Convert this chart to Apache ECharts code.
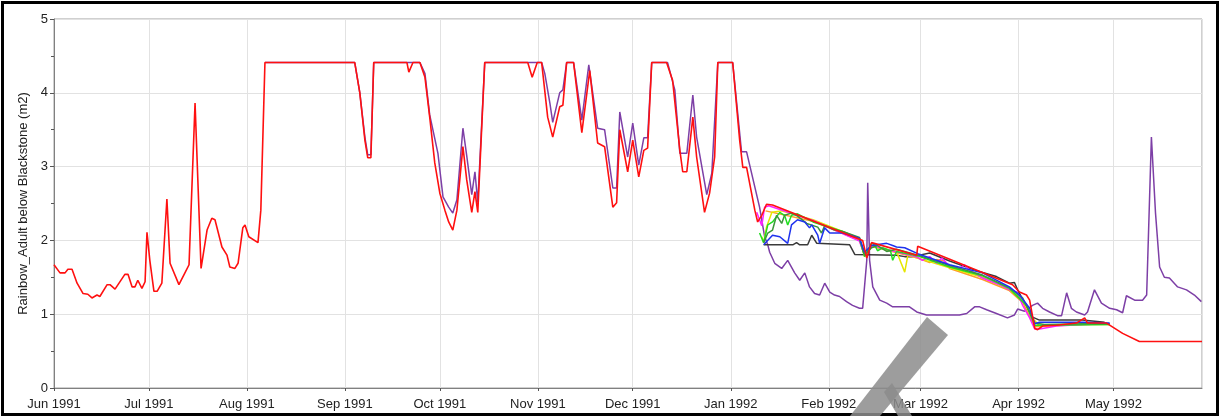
<!DOCTYPE html>
<html>
<head>
<meta charset="utf-8">
<script src="https://cdn.jsdelivr.net/npm/echarts@6/dist/echarts.min.js"></script>
<style>
  html, body { margin: 0; padding: 0; background: #fff; }
  #chart { width: 1220px; height: 416px; }
</style>
</head>
<body>
<div id="chart"></div>
<script>
// x values are days counted from 1 Jun 1991
var DAY = 864e5
var T0 = Date.UTC(1991, 5, 1)
var MONTHS = ['Jan', 'Feb', 'Mar', 'Apr', 'May', 'Jun', 'Jul', 'Aug', 'Sep', 'Oct', 'Nov', 'Dec']
var yTitle = 'Rainbow_Adult below Blackstone (m2)'

var red = [
  [0, 1.67], [1.9, 1.56], [3.5, 1.56], [4.4, 1.61], [5.7, 1.61], [7.3, 1.42], [9.2, 1.28], [10.7, 1.27],
  [12.0, 1.22], [13.6, 1.26], [14.5, 1.24], [16.8, 1.40], [17.7, 1.40], [19.3, 1.34], [22.4, 1.54],
  [23.4, 1.54], [24.7, 1.37], [25.6, 1.37], [26.5, 1.46], [27.8, 1.35], [28.8, 1.44], [29.4, 2.11],
  [30.3, 1.73], [31.6, 1.31], [32.6, 1.31], [34.1, 1.42], [35.7, 2.56], [36.7, 1.69], [39.5, 1.40],
  [41.4, 1.56], [42.7, 1.67], [44.6, 3.86], [46.5, 1.62], [48.4, 2.14], [49.9, 2.30], [50.9, 2.28],
  [53.1, 1.91], [54.7, 1.80], [55.6, 1.64], [57.2, 1.62], [58.2, 1.69], [59.7, 2.17], [60.4, 2.21],
  [61.6, 2.05], [64.5, 1.97], [65.4, 2.41], [66.7, 4.41],
  [95.1, 4.41], [96.7, 4.00], [98.3, 3.36], [99.2, 3.12], [100.2, 3.12], [101.1, 4.41], [111.6, 4.41],
  [112.2, 4.28], [113.5, 4.41], [115.7, 4.41], [117.3, 4.21], [118.8, 3.67], [120.4, 3.05], [122.0, 2.64],
  [123.6, 2.41], [124.8, 2.25], [126.1, 2.14], [127.4, 2.41], [129.3, 3.27], [130.5, 2.82], [132.1, 2.38],
  [133.1, 2.66], [134.0, 2.38], [136.2, 4.41],
  [149.8, 4.41], [151.2, 4.21], [152.8, 4.41], [154.2, 4.41], [156.1, 3.67], [157.7, 3.40], [159.9, 3.81],
  [160.9, 3.83], [162.1, 4.41], [164.3, 4.41], [166.9, 3.46], [169.4, 4.30], [171.9, 3.32], [174.1, 3.27],
  [176.7, 2.45], [177.9, 2.51], [178.9, 3.50], [181.4, 2.93], [183.0, 3.36], [184.9, 2.86], [186.5, 3.22],
  [187.7, 3.25], [189.0, 4.41], [193.7, 4.41], [195.6, 4.17], [197.9, 3.22], [198.8, 2.93], [200.1, 2.93],
  [202.0, 3.67], [203.2, 3.13], [205.7, 2.38], [207.3, 2.64], [208.9, 3.13], [209.9, 4.41], [214.6, 4.41],
  [216.8, 3.36], [217.8, 2.99], [219.0, 2.99], [221.6, 2.41], [222.5, 2.25], [223.8, 2.34], [225.3, 2.49],
  [227.2, 2.48], [255.7, 2.00], [257.0, 1.76], [258.5, 1.97], [272.8, 1.80], [273.1, 1.92], [303.1, 1.40],
  [305.3, 1.30], [307.5, 1.26], [308.5, 1.19], [310.1, 0.81], [311.0, 0.79], [312.6, 0.84], [317.0, 0.85],
  [323.3, 0.88], [325.9, 0.95], [326.8, 0.88], [332.8, 0.88], [337.9, 0.74], [343.2, 0.63], [363, 0.63]
]

var purple = [
  [66.7, 4.41], [95.1, 4.41], [96.7, 4.00], [98.3, 3.40], [99.2, 3.16], [100.2, 3.16], [101.1, 4.41],
  [115.7, 4.41], [117.3, 4.26], [118.8, 3.70], [121.4, 3.18], [123.0, 2.59], [124.8, 2.45], [126.1, 2.37],
  [127.4, 2.55], [129.3, 3.52], [130.5, 3.15], [132.1, 2.62], [133.1, 2.93], [134.0, 2.51], [136.2, 4.41],
  [154.2, 4.41], [155.2, 4.26], [156.8, 3.86], [157.7, 3.60], [159.9, 4.00], [160.9, 4.04], [162.1, 4.41],
  [164.3, 4.41], [166.9, 3.63], [169.1, 4.38], [171.9, 3.52], [174.1, 3.50], [176.7, 2.71], [177.9, 2.71],
  [178.9, 3.74], [181.4, 3.13], [183.0, 3.59], [184.9, 3.02], [186.5, 3.39], [187.7, 3.39], [189.0, 4.41],
  [194.0, 4.41], [196.3, 4.04], [197.9, 3.18], [200.1, 3.18], [202.0, 3.97], [203.2, 3.40], [206.4, 2.62],
  [208.0, 2.91], [209.9, 4.41], [214.6, 4.41], [217.4, 3.20], [219.0, 3.20], [223.1, 2.45], [224.7, 2.05],
  [225.7, 1.94], [226.3, 1.84], [227.9, 1.69], [230.1, 1.62], [232.0, 1.73], [234.2, 1.56], [235.8, 1.46],
  [237.4, 1.56], [238.9, 1.37], [240.5, 1.28], [242.1, 1.26], [243.7, 1.42], [245.3, 1.30], [246.8, 1.26],
  [248.4, 1.24], [250.6, 1.17], [252.5, 1.12], [254.7, 1.08], [255.7, 1.08], [257.0, 1.73], [257.3, 2.78],
  [257.9, 1.73], [258.9, 1.37], [261.1, 1.19], [263.3, 1.15], [265.2, 1.10], [270.5, 1.10], [272.8, 1.03],
  [275.9, 0.99], [280.0, 0.99], [286.3, 0.99], [288.6, 1.01], [291.1, 1.10], [292.7, 1.10], [294.9, 1.06],
  [298.0, 1.01], [301.5, 0.95], [303.7, 0.99], [304.7, 1.07], [306.9, 1.04], [309.4, 1.12], [311.0, 1.15],
  [312.6, 1.08], [314.8, 1.03], [317.3, 0.98], [318.6, 0.98], [320.2, 1.29], [321.7, 1.08], [323.3, 1.03],
  [325.9, 0.99], [326.8, 1.03], [329.0, 1.33], [331.2, 1.15], [333.8, 1.08], [336.0, 1.06], [337.9, 1.02],
  [339.1, 1.25], [341.7, 1.19], [344.2, 1.19], [345.5, 1.26], [347.0, 3.40], [348.3, 2.37], [349.6, 1.64],
  [351.1, 1.50], [352.7, 1.49], [355.3, 1.37], [358.1, 1.33], [360.6, 1.26], [362.8, 1.17]
]

// forecast traces, Jan - May 1992
var traceBlack = [
  [224.4, 1.94], [233.6, 1.94], [234.8, 1.97], [235.8, 1.94], [238.3, 1.94], [239.6, 2.07], [241.2, 1.96],
  [251.6, 1.94], [253.2, 1.81], [266.4, 1.80], [269.0, 1.78], [271.5, 1.78], [276.9, 1.83], [283.2, 1.72],
  [291.7, 1.59], [298.0, 1.51], [302.1, 1.42], [303.7, 1.43], [304.7, 1.33], [306.3, 1.20], [309.4, 0.96],
  [311.6, 0.92], [325.2, 0.92], [332.2, 0.89]
]
var traceBlue = [
  [224.4, 1.94], [227.2, 2.07], [229.5, 2.05], [232.0, 1.96], [233.2, 2.21], [235.1, 2.28], [237.4, 2.25],
  [238.9, 2.17], [239.6, 2.21], [241.5, 2.07], [242.1, 1.96], [243.7, 2.17], [245.3, 2.10], [247.5, 2.10],
  [249.4, 2.10], [254.7, 2.03], [256.3, 1.84], [258.5, 1.93], [263.3, 1.96], [265.2, 1.93], [266.4, 1.91],
  [269.0, 1.90], [273.1, 1.82], [283.2, 1.67], [293.6, 1.56], [302.1, 1.37], [305.3, 1.26], [308.5, 1.08],
  [310.1, 0.87], [311.6, 0.89], [325.2, 0.89], [333.8, 0.88]
]
var traceDarkGreen = [
  [224.4, 1.97], [225.7, 2.10], [227.2, 2.14], [228.5, 2.34], [230.1, 2.23], [231.0, 2.34], [233.2, 2.37],
  [235.1, 2.33], [238.0, 2.23], [241.5, 2.18], [242.7, 2.10], [243.7, 2.20], [246.8, 2.14], [249.4, 2.12],
  [254.7, 2.04], [256.3, 1.80], [258.5, 1.90], [260.4, 1.93], [263.3, 1.85], [266.4, 1.88], [273.1, 1.80],
  [283.2, 1.66], [293.6, 1.53], [302.1, 1.36], [306.3, 1.22], [310.1, 0.88], [313.2, 0.86], [325.2, 0.87],
  [333.8, 0.87]
]
var traceGreen = [
  [223.1, 2.10], [224.4, 1.97], [225.7, 2.21], [227.2, 2.25], [229.5, 2.38], [231.0, 2.34], [232.0, 2.21],
  [233.2, 2.34], [235.1, 2.36], [240.0, 2.25], [249.4, 2.12], [254.7, 2.02], [256.3, 1.78], [258.5, 1.96],
  [259.5, 1.94], [260.4, 1.86], [262.0, 1.90], [264.5, 1.86], [265.2, 1.73], [266.4, 1.85], [273.1, 1.79],
  [283.2, 1.64], [293.6, 1.52], [302.1, 1.35], [307.5, 1.12], [310.1, 0.85], [313.2, 0.85], [333.8, 0.86]
]
var traceYellow = [
  [223.8, 2.05], [224.4, 1.97], [225.3, 2.18], [227.0, 2.38], [230.0, 2.40], [240.0, 2.28], [254.7, 2.03],
  [256.3, 1.78], [258.5, 1.92], [266.4, 1.85], [269.0, 1.57], [270.0, 1.80], [273.1, 1.76], [283.2, 1.63],
  [293.6, 1.50], [302.1, 1.33], [306.3, 1.20], [309.4, 0.95], [311.6, 0.84], [325.2, 0.86], [333.8, 0.86]
]
var traceMagenta = [
  [222.2, 2.38], [223.8, 2.20], [224.7, 2.45], [226.0, 2.47], [240.0, 2.27], [254.7, 1.99], [256.3, 1.80],
  [258.5, 1.93], [273.1, 1.77], [274.6, 1.73], [276.9, 1.78], [279.1, 1.69], [280.7, 1.76], [283.2, 1.65],
  [286.3, 1.62], [287.9, 1.67], [289.5, 1.60], [293.6, 1.49], [299.0, 1.40], [302.1, 1.33], [304.5, 1.30],
  [306.3, 1.12], [308.5, 0.95], [310.1, 0.80], [311.6, 0.80], [317.0, 0.84], [325.2, 0.86], [333.8, 0.87]
]
var traceOrange = [
  [225.0, 2.40], [240.0, 2.26], [254.7, 2.00], [256.3, 1.80], [258.5, 1.92], [273.1, 1.76], [276.9, 1.70],
  [279.1, 1.74], [281.5, 1.72], [283.2, 1.62], [293.6, 1.47], [302.1, 1.32], [306.3, 1.16], [310.1, 0.83],
  [313.2, 0.84], [325.2, 0.86], [333.8, 0.87]
]

function toTime (pts) {
  return pts.map(function (p) { return [T0 + p[0] * DAY, p[1]] })
}

function lineSeries (name, pts, color, width) {
  return {
    name: name,
    type: 'line',
    data: toTime(pts),
    showSymbol: false,
    symbol: 'none',
    silent: true,
    lineStyle: { color: color, width: width || 1.5 },
    itemStyle: { color: color }
  }
}

var chart = echarts.init(document.getElementById('chart'))
var option = {
  animation: false,
  useUTC: true,
  backgroundColor: '#fff',
  textStyle: { fontFamily: 'Liberation Sans, Arial, sans-serif' },
  grid: {
    left: 54,
    right: 18,
    top: 19,
    bottom: 28,
    outerBoundsMode: 'none',
    show: true,
    borderColor: '#a0a0a0',
    borderWidth: 1
  },
  xAxis: {
    type: 'time',
    min: T0,
    max: T0 + 363 * DAY,
    minInterval: 28 * DAY,
    maxInterval: 31 * DAY,
    axisLine: { show: true, lineStyle: { color: '#808080', width: 1 } },
    axisTick: { show: true, length: 3, lineStyle: { color: '#555' } },
    splitLine: { show: true, lineStyle: { color: '#e2e2e2', width: 1 } },
    axisLabel: {
      color: '#222',
      fontSize: 13,
      margin: 10,
      alignMinLabel: 'center',
      showMaxLabel: false,
      hideOverlap: false,
      formatter: function (val) {
        var d = new Date(val)
        return MONTHS[d.getUTCMonth()] + ' ' + d.getUTCFullYear()
      }
    }
  },
  yAxis: {
    type: 'value',
    min: 0,
    max: 5,
    interval: 1,
    name: yTitle,
    nameLocation: 'middle',
    nameGap: 21,
    nameTextStyle: { color: '#222', fontSize: 13 },
    axisLine: { show: true, lineStyle: { color: '#808080', width: 1 } },
    axisTick: { show: true, length: 4, lineStyle: { color: '#555' } },
    minorTick: { show: true, splitNumber: 2, length: 3, lineStyle: { color: '#555' } },
    splitLine: { show: true, lineStyle: { color: '#e2e2e2', width: 1 } },
    axisLabel: { color: '#222', fontSize: 13, margin: 6 }
  },
  series: [
    lineSeries('purple', purple, '#7d3fa6', 1.5),
    lineSeries('black', traceBlack, '#3a3a3a', 1.5),
    lineSeries('orange', traceOrange, '#ff9a2a', 1.5),
    lineSeries('yellow', traceYellow, '#e6e600', 1.5),
    lineSeries('magenta', traceMagenta, '#ff20ff', 1.5),
    lineSeries('green', traceGreen, '#22dd22', 1.5),
    lineSeries('darkgreen', traceDarkGreen, '#3c963c', 1.5),
    lineSeries('blue', traceBlue, '#1e32ee', 1.5),
    lineSeries('red', red, '#ff1010', 1.6)
  ],
  graphic: [
    {
      type: 'rect',
      left: 0,
      top: 0,
      shape: { x: 1.5, y: 1.5, width: 1215, height: 412 },
      style: { fill: null, stroke: '#000', lineWidth: 3 },
      silent: true
    },
    {
      type: 'polygon',
      shape: { points: [[927, 317], [948, 335], [880, 416], [850, 416]] },
      style: { fill: '#8c8c8c', opacity: 0.85 },
      silent: true,
      z: 100
    },
    {
      type: 'polygon',
      shape: { points: [[884, 392], [892, 383], [912, 416], [898, 416]] },
      style: { fill: '#8c8c8c', opacity: 0.85 },
      silent: true,
      z: 100
    }
  ]
}
chart.setOption(option)
</script>
</body>
</html>
